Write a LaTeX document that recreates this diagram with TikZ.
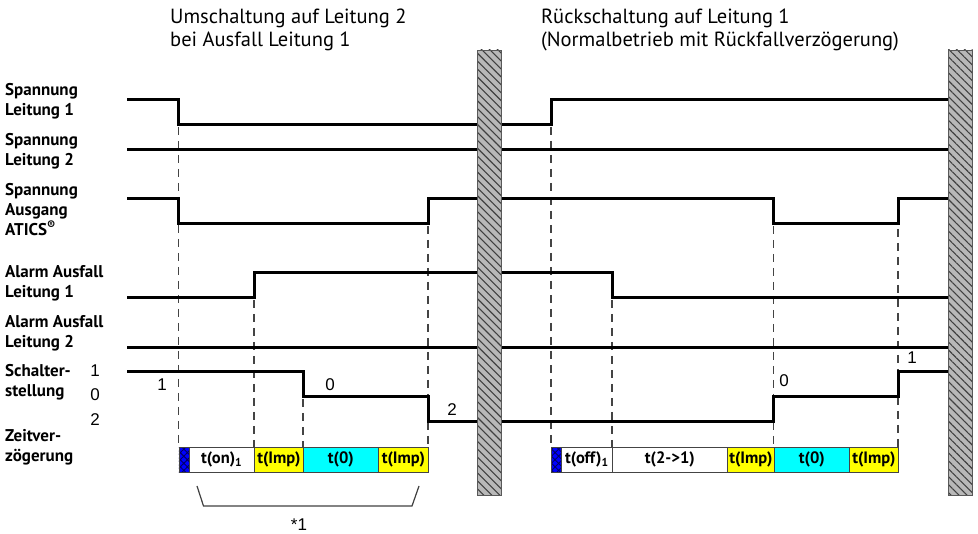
\documentclass[tikz,border=0pt]{standalone}
\usepackage{fontspec}
\setmainfont{PT Sans}
\newfontfamily\arialf{Liberation Sans}
\usetikzlibrary{patterns,patterns.meta}
\definecolor{barfill}{HTML}{B8B8B8}
\definecolor{dashgray}{HTML}{444444}
\definecolor{cellcyan}{HTML}{00FFFF}
\definecolor{cellyellow}{HTML}{FFFF00}
\definecolor{cellblue}{HTML}{0000FF}
\tikzset{
  sig/.style={line width=3pt, line join=miter, line cap=rect},
  dsh/.style={draw=dashgray, line width=1.6pt, dash pattern=on 8pt off 6pt},
  lbl/.style={font=\bfseries\fontsize{17}{20}\selectfont, anchor=base west, inner sep=0pt},
  title/.style={font=\fontsize{20.5}{23}\selectfont, anchor=base west, inner sep=0pt, align=left},
  num/.style={font=\arialf\fontsize{17}{20}\selectfont, anchor=base, inner sep=0pt},
  cell/.style={draw=dashgray, line width=0.8pt, minimum height=25pt, inner sep=0pt, anchor=north west,
    font=\bfseries\fontsize{16.5}{18}\selectfont},
  bluecell/.style={cell, preaction={fill=cellblue}, pattern={Hatch[angle=45,distance=5pt,line width=0.9pt]}, pattern color=blue!40!black},
  hbar/.style={draw=gray!70!black, line width=0.8pt, preaction={fill=barfill},
    pattern={Lines[angle=-45,distance=5.6pt,line width=1.1pt]}, pattern color=black!75},
  brk/.style={draw=black!75, line width=1.2pt}
}
\begin{document}
\begin{tikzpicture}[x=1pt,y=-1pt]
\useasboundingbox (0,0) rectangle (978,534);

% titles
\node[title] (t1) at (170,23.5) {Umschaltung auf Leitung 2};
\node[title] (t2) at (170,46.5) {bei Ausfall Leitung 1};
\node[title] (t3) at (541,23.5) {Rückschaltung auf Leitung 1};
\node[title] (t4) at (541,46.5) {(Normalbetrieb mit Rückfallverzögerung)};

% row labels
\node[lbl] (l1a) at (5,96) {Spannung};
\node[lbl] (l1b) at (5,116) {Leitung 1};
\node[lbl] (l2a) at (5,146) {Spannung};
\node[lbl] (l2b) at (5,166) {Leitung 2};
\node[lbl] (l3a) at (5,196) {Spannung};
\node[lbl] (l3b) at (5,216) {Ausgang};
\node[lbl] (l3c) at (5,236) {ATICS\textsuperscript{\textregistered}};
\node[lbl] (l4a) at (5,278) {Alarm Ausfall};
\node[lbl] (l4b) at (5,298) {Leitung 1};
\node[lbl] (l5a) at (5,328) {Alarm Ausfall};
\node[lbl] (l5b) at (5,348) {Leitung 2};
\node[lbl] (l6a) at (5,377) {Schalter-};
\node[lbl] (l6b) at (5,397) {stellung};
\node[lbl] (l7a) at (5,442) {Zeitver-};
\node[lbl] (l7b) at (5,462) {zögerung};
\node[num] (n1) at (95,377) {1};
\node[num] (n0) at (95,401) {0};
\node[num] (n2) at (95,426) {2};

% dashed guide lines
\draw[dsh] (178.5,127) -- (178.5,447);
\draw[dsh] (254,300) -- (254,447);
\draw[dsh] (303,399) -- (303,447);
\draw[dsh] (428,226) -- (428,447);
\draw[dsh] (551,127) -- (551,447);
\draw[dsh] (612,300) -- (612,447);
\draw[dsh] (773.5,226) -- (773.5,447);
\draw[dsh] (898,201) -- (898,447);

% signals left
\draw[sig] (128,100) -- (178.5,100) -- (178.5,125) -- (477,125);
\draw[sig] (128,150) -- (477,150);
\draw[sig] (128,199) -- (178.5,199) -- (178.5,224) -- (428,224) -- (428,199) -- (477,199);
\draw[sig] (128,298) -- (254,298) -- (254,273) -- (477,273);
\draw[sig] (128,348) -- (477,348);
\draw[sig] (128,372) -- (303,372) -- (303,397) -- (428,397) -- (428,422) -- (477,422);
% signals right
\draw[sig] (501,125) -- (551,125) -- (551,100) -- (948,100);
\draw[sig] (501,150) -- (948,150);
\draw[sig] (501,199) -- (773.5,199) -- (773.5,224) -- (898,224) -- (898,199) -- (948,199);
\draw[sig] (501,273) -- (612,273) -- (612,298) -- (948,298);
\draw[sig] (501,348) -- (948,348);
\draw[sig] (501,422) -- (773.5,422) -- (773.5,397) -- (898,397) -- (898,372) -- (948,372);

% signal value labels
\node[num] (s1) at (162,391) {1};
\node[num] (s0) at (330,391) {0};
\node[num] (s2) at (452,416) {2};
\node[num] (r0) at (784,387) {0};
\node[num] (r1) at (912,364) {1};

% time bars left
\node[bluecell, minimum width=10pt] (b1) at (178.5,447) {};
\node[cell, fill=white, minimum width=65.5pt] (c1) at (188.5,447) {t(on)\textsubscript{1}};
\node[cell, fill=cellyellow, minimum width=49pt] (c2) at (254,447) {t(Imp)};
\node[cell, fill=cellcyan, minimum width=75pt] (c3) at (303,447) {t(0)};
\node[cell, fill=cellyellow, minimum width=50pt] (c4) at (378,447) {t(Imp)};
% time bars right
\node[bluecell, minimum width=10pt] (b2) at (551,447) {};
\node[cell, fill=white, minimum width=51pt] (d1) at (561,447) {t(off)\textsubscript{1}};
\node[cell, fill=white, minimum width=115pt] (d2) at (612,447) {t(2->1)};
\node[cell, fill=cellyellow, minimum width=47pt] (d3) at (727,447) {t(Imp)};
\node[cell, fill=cellcyan, minimum width=75pt] (d4) at (774,447) {t(0)};
\node[cell, fill=cellyellow, minimum width=49pt] (d5) at (849,447) {t(Imp)};

% hatched separators
\draw[hbar] (477,50) rectangle (501.5,495);
\draw[hbar] (948,50) rectangle (972.5,495);

% bracket
\coordinate (k1) at (197,486);
\coordinate (k2) at (203.5,506);
\coordinate (k3) at (412,506);
\coordinate (k4) at (419,486);
\draw[brk] (k1) -- (k2) -- (k3) -- (k4);
\node[num] (star) at (299,530) {*1};
\end{tikzpicture}
\end{document}
